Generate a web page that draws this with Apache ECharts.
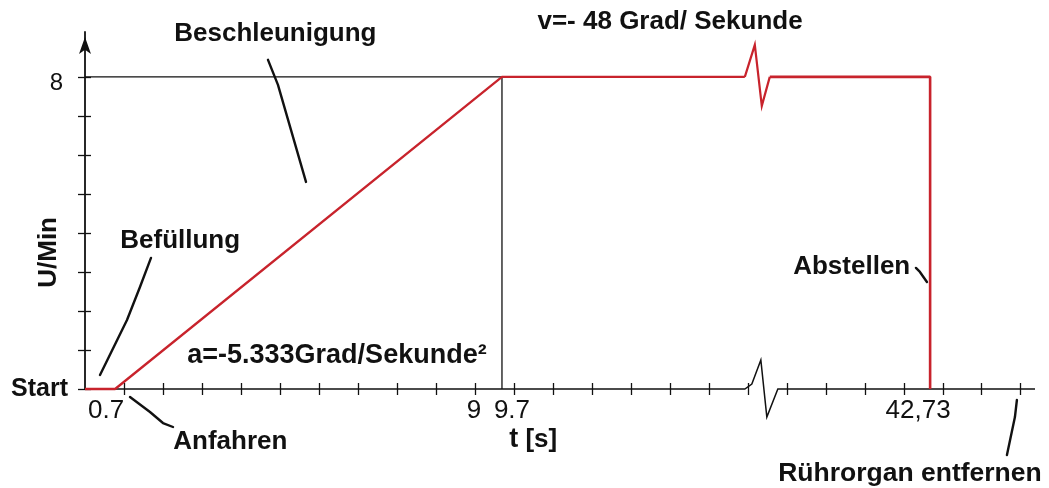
<!DOCTYPE html>
<html>
<head>
<meta charset="utf-8">
<script src="https://cdn.jsdelivr.net/npm/echarts@6/dist/echarts.min.js"></script>
<style>
  html, body { margin: 0; padding: 0; background: #fff; }
  #chart { width: 1049px; height: 488px; }
</style>
</head>
<body>
<div id="chart"></div>
<script>
// Drehzahlprofil des Rührorgans: U/Min über t [s]
const profileTimes = [0, 0.7, 9.7, 42.73, 42.73];
const profileSpeed = [0, 0, 8, 8, 0];
const targetSpeed = 8;
const rampEnd = 9.7;

// labelled instants on the time axis
const xTickTimes = [0.7, 9, 9.7, 42.73];
const xTickLabels = ['0.7', '9', '9.7', '42,73'];
// labelled speeds on the U/Min axis
const yTickValues = [0, 8];
const yTickLabels = ['Start', '8'];

const FONT = 'Liberation Sans';
const INK = '#111111';
const RED = '#c8232c';

// broken time axis: the quiet stretch between BREAK.from and BREAK.to is squeezed into BREAK.span
const BREAK = { from: 15.35, to: 39.0, span: 0.58 };
function toAxis(t) {
  if (t <= BREAK.from) return t;
  if (t >= BREAK.to) return t - (BREAK.to - BREAK.from) + BREAK.span;
  return BREAK.from + (t - BREAK.from) / (BREAK.to - BREAK.from) * BREAK.span;
}
const X_MAX = 22.1;
const TICK_STEP = 0.907;
const xTicks = [];
for (let k = 1; k * TICK_STEP <= X_MAX - 0.2; k++) xTicks.push(+(k * TICK_STEP).toFixed(4));
const Y_MAX = 9.15;
const yTicks = [0, 1, 2, 3, 4, 5, 6, 7, 8];

// speed of the piecewise linear profile at time t (first matching segment)
function speedAt(t) {
  for (let i = 0; i < profileTimes.length - 1; i++) {
    const t0 = profileTimes[i], t1 = profileTimes[i + 1];
    if (t >= t0 && t <= t1 && t1 > t0) {
      return profileSpeed[i] + (profileSpeed[i + 1] - profileSpeed[i]) * (t - t0) / (t1 - t0);
    }
  }
  return profileSpeed[profileSpeed.length - 1];
}
// split the profile into the part before and after the axis break
const beforeBreak = [], afterBreak = [];
profileTimes.forEach((t, i) => {
  if (t <= BREAK.from) beforeBreak.push([toAxis(t), profileSpeed[i]]);
});
beforeBreak.push([toAxis(BREAK.from), speedAt(BREAK.from)]);
afterBreak.push([toAxis(BREAK.to), speedAt(BREAK.to)]);
profileTimes.forEach((t, i) => {
  if (t >= BREAK.to) afterBreak.push([toAxis(t), profileSpeed[i]]);
});

// annotation texts with leader strokes, placed in axis units
const notes = [
  { text: 'Beschleunigung', at: [2.07, 9.11], size: 26,
    leader: [[4.257, 8.436], [4.489, 7.795], [5.141, 5.308]] },
  { text: 'v=- 48 Grad/ Sekunde', at: [10.52, 9.40], size: 26, leader: null },
  { text: 'a=-5.333Grad/Sekunde²', at: [2.373, 0.846], size: 27, leader: null },
  { text: 'Befüllung', at: [0.814, 3.795], size: 26,
    leader: [[1.535, 3.359], [1.279, 2.615], [0.977, 1.769], [0.349, 0.359]] },
  { text: 'Abstellen', at: [16.469, 3.128], size: 26,
    leader: [[19.33, 3.103], [19.423, 3.0], [19.586, 2.744]] },
  { text: 'Anfahren', at: [2.047, -1.359], size: 26,
    leader: [[1.047, -0.205], [1.512, -0.59], [1.814, -0.872], [2.047, -0.974]] },
  { text: 'Rührorgan entfernen', at: [16.12, -2.179], size: 26.5,
    leader: [[21.679, -0.282], [21.633, -0.718], [21.447, -1.692]] }
];
const axisTitle = { at: [9.863, -1.308] };

// horizontal nudges (px) of the time labels away from their ticks
const xLabelShift = [-9, 2, 10, -12];
const xRich = {};
xTickLabels.forEach((s, i) => {
  const d = xLabelShift[i];
  xRich['l' + i] = {
    fontFamily: FONT, fontSize: 26, color: INK,
    padding: d < 0 ? [0, -2 * d, 0, 0] : [0, 0, 0, 2 * d]
  };
});
const xLabelValues = xTickTimes.map(toAxis);

const chart = echarts.init(document.getElementById('chart'), null, { renderer: 'canvas' });

const commonX = { type: 'value', min: 0, max: X_MAX, splitLine: { show: false }, axisLine: { show: false } };
const commonY = { type: 'value', min: 0, max: Y_MAX, splitLine: { show: false } };

const option = {
  backgroundColor: '#fff',
  animation: false,
  grid: { left: 85, right: 14, top: 32, bottom: 99, containLabel: false },
  xAxis: [
    Object.assign({}, commonX, {
      position: 'bottom',
      axisTick: { show: true, customValues: xTicks, length: 6, inside: false,
                  lineStyle: { color: INK, width: 1.3 } },
      axisLabel: {
        show: true, customValues: xLabelValues, margin: 9,
        formatter: (v) => {
          let best = 0;
          xLabelValues.forEach((x, i) => { if (Math.abs(x - v) < Math.abs(xLabelValues[best] - v)) best = i; });
          return '{l' + best + '|' + xTickLabels[best] + '}';
        },
        rich: xRich
      }
    }),
    Object.assign({}, commonX, {
      position: 'bottom',
      axisTick: { show: true, customValues: xTicks, length: 6, inside: true,
                  lineStyle: { color: INK, width: 1.3 } },
      axisLabel: { show: false }
    })
  ],
  yAxis: [
    Object.assign({}, commonY, {
      position: 'left',
      axisLine: { show: true, onZero: false, symbol: ['none', 'arrow'], symbolSize: [9, 17],
                  symbolOffset: [0, -5], lineStyle: { color: INK, width: 1.8 } },
      axisTick: { show: true, customValues: yTicks, length: 7, lineStyle: { color: INK, width: 1.3 } },
      axisLabel: {
        show: true, customValues: yTickValues, margin: 17,
        formatter: (v) => (v === yTickValues[0] ? '{s|' + yTickLabels[0] + '}' : '{n|' + yTickLabels[1] + '}'),
        rich: {
          s: { fontFamily: FONT, fontSize: 25, fontWeight: 'bold', color: INK },
          n: { fontFamily: FONT, fontSize: 24, color: INK, padding: [14, 5, 0, 0] }
        }
      }
    }),
    Object.assign({}, commonY, {
      position: 'left',
      axisLine: { show: false },
      axisTick: { show: true, customValues: yTicks, length: 6, inside: true, lineStyle: { color: INK, width: 1.3 } },
      axisLabel: { show: false }
    })
  ],
  graphic: [{
    type: 'text', left: 36, top: 217, rotation: Math.PI / 2,
    style: { text: 'U/Min', fontFamily: FONT, fontSize: 26, fontWeight: 'bold', fill: INK }
  }],
  series: [
    // time axis line with its break glyph
    {
      type: 'custom', z: 1, silent: true, clip: false,
      data: [[toAxis(BREAK.from), 0]],
      renderItem: (params, api) => {
        const origin = api.coord([0, 0]);
        const b = api.coord([toAxis(BREAK.from), 0]);
        const end = api.coord([X_MAX, 0]);
        const zig = [[0, 0], [7, -5], [16, -29], [22, 28], [33, 0]].map(([dx, dy]) => [b[0] + dx, b[1] + dy]);
        return {
          type: 'polyline',
          shape: { points: [origin].concat(zig, [end]) },
          style: { stroke: INK, lineWidth: 1.5, fill: null }
        };
      }
    },
    // guide lines at the target speed and the end of the ramp
    {
      type: 'line', z: 2, silent: true, symbol: 'none',
      data: [[0, targetSpeed], [toAxis(rampEnd), targetSpeed], [toAxis(rampEnd), 0]],
      lineStyle: { color: INK, width: 1.3 }
    },
    // speed profile
    {
      type: 'line', z: 4, silent: true, symbol: 'none', clip: false,
      data: beforeBreak, lineStyle: { color: RED, width: 2.3 }
    },
    {
      type: 'line', z: 4, silent: true, symbol: 'none', clip: false,
      data: afterBreak, lineStyle: { color: RED, width: 2.6 }
    },
    // break glyph on the profile
    {
      type: 'custom', z: 4, silent: true, clip: false,
      data: [[toAxis(BREAK.from), speedAt(BREAK.from)]],
      renderItem: (params, api) => {
        const b = api.coord([api.value(0), api.value(1)]);
        const e = api.coord([toAxis(BREAK.to), speedAt(BREAK.to)]);
        const w = e[0] - b[0];
        const pts = [[0, 0], [0.4, -32], [0.68, 29], [1, 0]].map(([f, dy]) => [b[0] + f * w, b[1] + dy]);
        return { type: 'polyline', shape: { points: pts }, style: { stroke: RED, lineWidth: 2.2, fill: null } };
      }
    }
  ].concat(
    notes.filter(n => n.leader).map(n => ({
      type: 'line', z: 3, silent: true, symbol: 'none', clip: false,
      data: n.leader, lineStyle: { color: INK, width: 2.4, cap: 'round', join: 'round' }
    })),
    [{
      type: 'scatter', z: 5, silent: true, clip: false,
      symbolSize: 0.5, itemStyle: { color: '#ffffff', opacity: 1 },
      data: notes.map(n => ({ value: n.at, name: n.text,
        label: { fontSize: n.size } })).concat([{ value: axisTitle.at, name: 't [s]',
        label: { formatter: '{b|t} {r|[s]}' } }]),
      label: {
        show: true, position: 'right', distance: 0, opacity: 1,
        formatter: (p) => p.name,
        fontFamily: FONT, fontWeight: 'bold', color: INK, fontSize: 26,
        rich: {
          b: { fontFamily: FONT, fontWeight: 'bold', fontSize: 27, color: INK },
          r: { fontFamily: FONT, fontSize: 26, color: INK }
        }
      }
    }]
  )
};
chart.setOption(option);
</script>
</body>
</html>
